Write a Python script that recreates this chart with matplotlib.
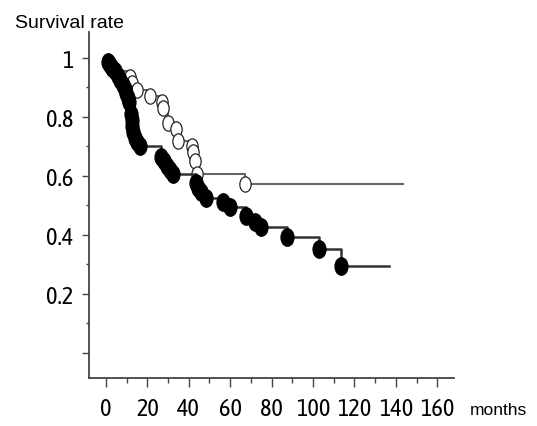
import numpy as np
import matplotlib
matplotlib.use('Agg')
import matplotlib.pyplot as plt
from matplotlib.path import Path
from matplotlib.transforms import Affine2D

# Group with filled markers: event times (months) and survival after each event
t_filled = [1, 2, 3, 4.5, 6, 7, 8, 9, 9.8, 10.5, 11.2,
            12, 12.4, 12.8, 13.3, 14, 15, 16.5,
            26.5, 28, 29.5, 31, 32.4,
            43.5, 44.5, 46, 48.5,
            56.5, 60, 67.5, 72, 75,
            87.5, 103, 113.5]
s_filled = [0.985, 0.975, 0.965, 0.955, 0.94, 0.925, 0.91, 0.895, 0.88, 0.865, 0.85,
            0.81, 0.79, 0.77, 0.75, 0.73, 0.715, 0.70,
            0.665, 0.65, 0.635, 0.62, 0.605,
            0.575, 0.56, 0.545, 0.526,
            0.51, 0.494, 0.465, 0.445, 0.426,
            0.392, 0.353, 0.296]
end_filled = 136.7

# Group with open markers
t_open = [4, 11.4, 12.4, 15, 21.3, 26.9, 27.7, 29.8, 34, 35,
          41.4, 42.2, 43, 43.8, 67]
s_open = [0.955, 0.935, 0.915, 0.89, 0.87, 0.85, 0.83, 0.78, 0.76, 0.72,
          0.70, 0.68, 0.65, 0.607, 0.573]
end_open = 143.5

x_ticks = [0, 20, 40, 60, 80, 100, 120, 140, 160]
y_ticks = [0, 0.2, 0.4, 0.6, 0.8, 1.0]
y_labels = ['', '0.2', '0.4', '0.6', '0.8', '1']

narrow = ['Asap Condensed', 'DejaVu Sans']

# tall ellipse marker
ellipse = Affine2D().scale(0.74, 1.0).transform_path(Path.unit_circle())

fig = plt.figure(figsize=(5.37, 4.27), dpi=100)
ax = fig.add_axes([0.1657, 0.1124, 0.6797, 0.8103])

xo = [0] + t_open + [end_open]
yo = [1.0] + s_open + [s_open[-1]]
ax.plot(xo, yo, drawstyle='steps-post', color='#666666', lw=1.5, zorder=2)
ax.plot(t_open, s_open, ls='none', marker=ellipse, markersize=11,
        markerfacecolor='white', markeredgecolor='#222222', markeredgewidth=0.9, zorder=3)

xf = [0] + t_filled + [end_filled]
yf = [1.0] + s_filled + [s_filled[-1]]
ax.plot(xf, yf, drawstyle='steps-post', color='#333333', lw=1.8, zorder=4)
ax.plot(t_filled, s_filled, ls='none', marker=ellipse, markersize=12.5,
        markerfacecolor='black', markeredgecolor='black', zorder=5)

ax.set_xlim(-8.2, 168.1)
ax.set_ylim(-0.085, 1.088)

for side in ['top', 'right']:
    ax.spines[side].set_visible(False)
for side in ['left', 'bottom']:
    ax.spines[side].set_color('#444444')
    ax.spines[side].set_linewidth(1.3)

ax.set_xticks(x_ticks)
ax.set_xticks(np.arange(10, 170, 20), minor=True)
ax.set_yticks(y_ticks)
ax.set_yticklabels(y_labels)
ax.set_yticks(np.arange(0.1, 1.0, 0.2), minor=True)

ax.tick_params(axis='x', which='major', length=6.5, width=1, color='#444444', pad=7, labelsize=17.5)
ax.tick_params(axis='x', which='minor', length=3.6, width=1, color='#444444')
ax.tick_params(axis='y', which='major', length=5, width=1, color='#444444', pad=6, labelsize=17.5)
ax.tick_params(axis='y', which='minor', length=2.5, width=1, color='#444444')
for lab in ax.get_xticklabels() + ax.get_yticklabels():
    lab.set_family(narrow)
    lab.set_fontweight('normal')

fig.text(15 / 537, 1 - 28 / 427, 'Survival rate', fontsize=14, family='Liberation Sans',
         ha='left', va='baseline')
fig.text(470 / 537, 1 - 415 / 427, 'months', fontsize=12.5, family='Liberation Sans',
         ha='left', va='baseline')

fig.savefig('out.png', dpi=100)
